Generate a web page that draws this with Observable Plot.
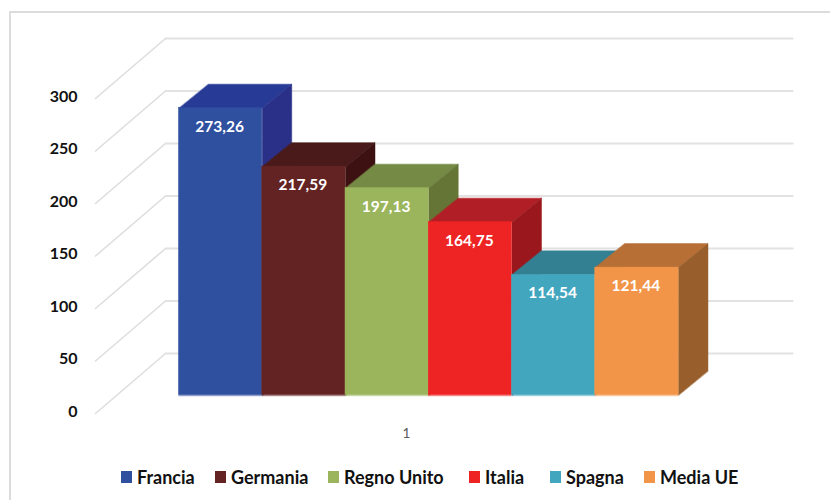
<!DOCTYPE html>
<html>
<head>
<meta charset="utf-8">
<script src="https://cdn.jsdelivr.net/npm/d3@7"></script>
<script src="https://cdn.jsdelivr.net/npm/@observablehq/plot@0.6"></script>
<style>
html,body{margin:0;padding:0;background:#fff;}
#frame{position:absolute;left:9px;top:11px;width:821px;height:489px;box-sizing:border-box;border-left:2px solid #dcdcdc;border-top:2px solid #dcdcdc;}
#chart{position:absolute;left:0;top:0;}
#chart svg{display:block;background:transparent;}
#legend{position:absolute;left:0;top:465px;width:830px;height:24px;font:bold 18px Lato,sans-serif;color:#111;line-height:24px;white-space:nowrap;}
#legend .k{position:absolute;top:0;display:flex;align-items:center;gap:5px;}
#legend i{display:block;width:11px;height:12px;}
</style>
</head>
<body>
<div id="frame"></div>
<div id="chart"></div>
<div id="legend"></div>
<script>
const categories = ["Francia", "Germania", "Regno Unito", "Italia", "Spagna", "Media UE"];
const values = [273.26, 217.59, 197.13, 164.75, 114.54, 121.44];
const valueLabels = ["273,26", "217,59", "197,13", "164,75", "114,54", "121,44"];
const frontColors = ["#2f4f9f", "#632322", "#9ab55c", "#ee2324", "#43a6bf", "#f29549"];
const topColors = ["#263a96", "#4a1a1a", "#758b45", "#b21e25", "#338093", "#b76f36"];
const sideColors = ["#2a3088", "#3d1111", "#657535", "#9a181d", "#2c7082", "#985e2b"];
const yTicks = [0, 50, 100, 150, 200, 250, 300];
const xLabel = "1";

// oblique projection, expressed in scale units
const wallDepth = {u: 0.841, v: 57.14};
const barDepth = {u: 0.354, v: 22.86};
const barBase = 17.5;
const wallLeft = -1.003, wallRight = 7.37;

const gridDiagonal = yTicks.flatMap(t => [
  {id: t, u: wallLeft, v: t},
  {id: t, u: wallLeft + wallDepth.u, v: t + wallDepth.v}
]);
const gridBack = yTicks.flatMap(t => [
  {id: t, u: wallLeft + wallDepth.u, v: t + wallDepth.v},
  {id: t, u: wallRight, v: t + wallDepth.v}
]);
const faces = values.flatMap((val, i) => {
  const top = val + barBase, base = barBase;
  const {u: du, v: dv} = barDepth;
  return [
    ...[[i, top], [i + 1, top], [i + 1 + du, top + dv], [i + du, top + dv]]
      .map(([u, v]) => ({id: `t${i}`, u, v, c: topColors[i]})),
    ...[[i + 1, base], [i + 1, top], [i + 1 + du, top + dv], [i + 1 + du, base + dv]]
      .map(([u, v]) => ({id: `s${i}`, u, v, c: sideColors[i]}))
  ];
});
const bars = values.map((val, i) => ({i, top: val + barBase, base: barBase, c: frontColors[i], label: valueLabels[i]}));

// one scale unit in pixels: x 83.25 px per bar, y 1.05 px per value
const H = 460;
const xOf = px => (px - 178.5) / 83.25;
const yOf = py => (413 - py) / 1.05;

const plot = Plot.plot({
  width: 830, height: H,
  marginTop: 0, marginRight: 0, marginBottom: 0, marginLeft: 77,
  style: {background: "transparent", overflow: "visible"},
  x: {type: "linear", domain: [xOf(77), xOf(830)], axis: null},
  y: {type: "linear", domain: [yOf(H), yOf(0)]},
  marks: [
    Plot.line(gridDiagonal, {x: "u", y: "v", z: "id", stroke: "#dedede", strokeWidth: 1.6}),
    Plot.line(gridBack, {x: "u", y: "v", z: "id", stroke: "#e2e2e2", strokeWidth: 2}),
    Plot.axisY(yTicks, {
      anchor: "left", tickSize: 0, tickPadding: 0, label: null, dy: -2,
      fontFamily: "Lato, sans-serif", fontWeight: 700, fontSize: 16, fill: "#111"
    }),
    Plot.line(faces, {x: "u", y: "v", z: "id", fill: "c", stroke: "c", strokeWidth: 0.5, curve: "linear-closed"}),
    Plot.rect(bars, {x1: "i", x2: d => d.i + 1, y1: "base", y2: d => d.base - 1.5, fill: "c", fillOpacity: 0.55}),
    Plot.rect(bars, {x1: "i", x2: d => d.i + 1, y1: "base", y2: "top", fill: "c", stroke: "c", strokeWidth: 0.5}),
    Plot.text(bars, {
      x: d => d.i + 0.5, y: "top", text: "label", dy: 18.5, dx: -1, fill: "#fff",
      fontFamily: "Lato, sans-serif", fontWeight: 700, fontSize: 15.5
    }),
    Plot.text([xLabel], {
      x: () => xOf(406), y: () => yOf(433), text: d => d, fill: "#595959",
      fontFamily: "Lato, sans-serif", fontSize: 13.5
    })
  ]
});
document.getElementById("chart").appendChild(plot);

const legendLefts = [121, 215, 328, 469, 550, 644];
const legend = d3.select("#legend");
categories.forEach((name, i) => {
  const k = legend.append("div").attr("class", "k").style("left", legendLefts[i] + "px");
  k.append("i").style("background", frontColors[i]);
  k.append("span").text(name);
});
</script>
</body>
</html>
